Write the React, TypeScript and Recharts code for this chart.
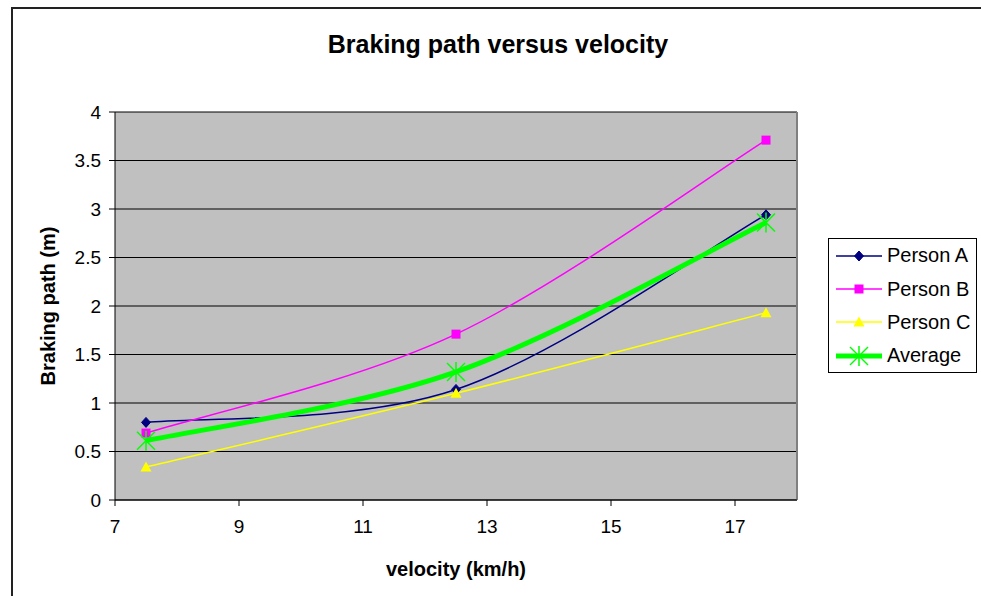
import React from 'react'
import { LineChart, CartesianGrid, XAxis, YAxis, Line, ReferenceLine } from 'recharts'

// values
const velocity = [7.5, 12.5, 17.5]
const personA = [0.8, 1.14, 2.94]
const personB = [0.69, 1.71, 3.71]
const personC = [0.34, 1.1, 1.93]
const average = [0.61, 1.32, 2.86]

const xTicks = [7, 9, 11, 13, 15, 17]
const yTicks = [0, 0.5, 1, 1.5, 2, 2.5, 3, 3.5, 4]

const data = velocity.map((v, i) => ({
    velocity: v,
    a: personA[i],
    b: personB[i],
    c: personC[i],
    avg: average[i],
}))

const FONT = '"Liberation Sans", Arial, sans-serif'

type MarkerKind = 'diamond' | 'square' | 'triangle' | 'star'

const series: { key: string; name: string; color: string; width: number; marker: MarkerKind }[] = [
    { key: 'a', name: 'Person A', color: '#000080', width: 1.5, marker: 'diamond' },
    { key: 'b', name: 'Person B', color: '#FF00FF', width: 1.5, marker: 'square' },
    { key: 'c', name: 'Person C', color: '#FFFF00', width: 1.5, marker: 'triangle' },
    { key: 'avg', name: 'Average', color: '#00FF00', width: 5, marker: 'star' },
]

// Excel style smoothed line: cubic bezier, control points at 1/6 of the neighbour chord
function excelSmooth(context: any) {
    let pts: number[][] = []
    return {
        areaStart() {},
        areaEnd() {},
        lineStart() {
            pts = []
        },
        point(x: number, y: number) {
            pts.push([+x, +y])
        },
        lineEnd() {
            if (!pts.length) return
            context.moveTo(pts[0][0], pts[0][1])
            for (let i = 0; i < pts.length - 1; i++) {
                const p0 = pts[i - 1] || pts[i]
                const p1 = pts[i]
                const p2 = pts[i + 1]
                const p3 = pts[i + 2] || pts[i + 1]
                context.bezierCurveTo(
                    p1[0] + (p2[0] - p0[0]) / 6,
                    p1[1] + (p2[1] - p0[1]) / 6,
                    p2[0] - (p3[0] - p1[0]) / 6,
                    p2[1] - (p3[1] - p1[1]) / 6,
                    p2[0],
                    p2[1]
                )
            }
        },
    }
}

function Marker({ kind, cx, cy, color }: { kind: MarkerKind; cx: number; cy: number; color: string }) {
    if (kind === 'diamond') {
        return <polygon points={`${cx},${cy - 5} ${cx + 4.5},${cy} ${cx},${cy + 5} ${cx - 4.5},${cy}`} fill={color} stroke={color} />
    }
    if (kind === 'square') {
        return <rect x={cx - 4.5} y={cy - 4.5} width={9} height={9} fill={color} />
    }
    if (kind === 'triangle') {
        return <polygon points={`${cx},${cy - 5.5} ${cx + 5.5},${cy + 4.5} ${cx - 5.5},${cy + 4.5}`} fill={color} />
    }
    // asterisk style star
    return (
        <g stroke={color} strokeWidth={1.5}>
            <line x1={cx} y1={cy - 10} x2={cx} y2={cy + 10} />
            <line x1={cx - 9} y1={cy - 9} x2={cx + 9} y2={cy + 9} />
            <line x1={cx - 9} y1={cy + 9} x2={cx + 9} y2={cy - 9} />
        </g>
    )
}

const ChartLegend = () => (
    <div
        style={{
            position: 'absolute',
            left: 828,
            top: 238,
            width: 147,
            height: 133,
            border: '1px solid #000',
            background: '#fff',
            fontFamily: FONT,
            fontSize: 20,
        }}
    >
        {series.map((s) => (
            <div key={s.key} style={{ height: 33.4, display: 'flex', alignItems: 'center' }}>
                <svg width={58} height={24} style={{ flex: 'none' }}>
                    <line x1={7} y1={12} x2={53} y2={12} stroke={s.color} strokeWidth={s.width} />
                    <Marker kind={s.marker} cx={30} cy={12} color={s.color} />
                </svg>
                <span style={{ color: '#000' }}>{s.name}</span>
            </div>
        ))}
    </div>
)

export default function App() {
    return (
        <div style={{ position: 'fixed', left: 0, top: 0, width: 981, height: 596, overflow: 'hidden', background: '#fff' }}>
            <div
                style={{
                    position: 'absolute',
                    left: 11,
                    top: 7,
                    width: 1100,
                    height: 800,
                    border: '2px solid #222',
                }}
            />
            <div
                style={{
                    position: 'absolute',
                    left: 498,
                    top: 32,
                    transform: 'translateX(-50%)',
                    whiteSpace: 'nowrap',
                    fontFamily: FONT,
                    fontWeight: 'bold',
                    fontSize: 25,
                    lineHeight: '25px',
                }}
            >
                Braking path versus velocity
            </div>
            <div style={{ position: 'absolute', left: 0, top: 0 }}>
                <LineChart width={981} height={596} data={data} margin={{ top: 112, right: 184, bottom: 0, left: 0 }}>
                    <CartesianGrid horizontal vertical={false} stroke='#000' fill='#C0C0C0' fillOpacity={1} />
                    <XAxis
                        dataKey='velocity'
                        type='number'
                        domain={[7, 18]}
                        ticks={xTicks}
                        height={96}
                        stroke='#000'
                        tickSize={6}
                        tickMargin={14}
                        tick={{ fill: '#000', fontSize: 19, fontFamily: FONT }}
                        label={{
                            value: 'velocity (km/h)',
                            position: 'insideBottom',
                            offset: 20,
                            style: { fill: '#000', fontSize: 20, fontWeight: 'bold', fontFamily: FONT },
                        }}
                    />
                    <YAxis
                        domain={[0, 4]}
                        ticks={yTicks}
                        width={115}
                        stroke='#000'
                        tickSize={6}
                        tickMargin={8}
                        tick={{ fill: '#000', fontSize: 19, fontFamily: FONT }}
                        label={({ viewBox }: any) => {
                            const cx = viewBox.x + 48
                            const cy = viewBox.y + viewBox.height / 2
                            return (
                                <text
                                    x={cx}
                                    y={cy}
                                    transform={`rotate(-90 ${cx} ${cy})`}
                                    textAnchor='middle'
                                    dominantBaseline='central'
                                    style={{ fill: '#000', fontSize: 20, fontWeight: 'bold', fontFamily: FONT }}
                                >
                                    Braking path (m)
                                </text>
                            )
                        }}
                    />
                    <ReferenceLine x={18} stroke='#808080' strokeWidth={2} />
                    {series.map((s) => (
                        <Line
                            key={s.key}
                            type={excelSmooth as any}
                            dataKey={s.key}
                            name={s.name}
                            stroke={s.color}
                            strokeWidth={s.width}
                            isAnimationActive={false}
                            dot={(p: any) => <Marker key={`${s.key}-${p.index}`} kind={s.marker} cx={p.cx} cy={p.cy} color={s.color} />}
                            activeDot={false}
                        />
                    ))}
                </LineChart>
            </div>
            <ChartLegend />
        </div>
    )
}
